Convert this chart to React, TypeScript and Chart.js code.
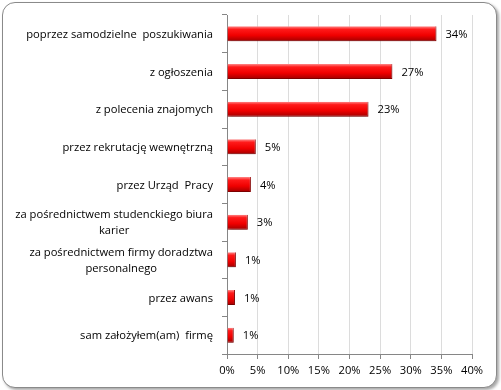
import React, { useEffect, useRef } from "react";
import { Chart, registerables } from "chart.js";

Chart.register(...registerables);

const categories: string[][] = [
  ["poprzez samodzielne  poszukiwania"],
  ["z ogłoszenia"],
  ["z polecenia znajomych"],
  ["przez rekrutację wewnętrzną"],
  ["przez Urząd  Pracy"],
  ["za pośrednictwem studenckiego biura", "karier"],
  ["za pośrednictwem firmy doradztwa", "personalnego"],
  ["przez awans"],
  ["sam założyłem(am)  firmę"],
];
const values: number[] = [34.2, 27, 23.1, 4.7, 3.9, 3.4, 1.45, 1.3, 1.1];
const valueLabels: string[] = ["34%", "27%", "23%", "5%", "4%", "3%", "1%", "1%", "1%"];
const xMax = 40;
const xStep = 5;

const FONT = "'Open Sans', Lato, sans-serif";
const BAR_PCT = 0.4;

export default function App() {
  const ref = useRef<HTMLCanvasElement>(null);
  useEffect(() => {
    if (!ref.current) return;
    const shadowPlugin = {
      id: "barShadow",
      beforeDatasetsDraw(chart: any) {
        const ctx = chart.ctx;
        ctx.save();
        ctx.shadowColor = "rgba(0,0,0,0.28)";
        ctx.shadowBlur = 3;
        ctx.shadowOffsetX = 1;
        ctx.shadowOffsetY = 2;
      },
      afterDatasetsDraw(chart: any) {
        chart.ctx.restore();
      },
    };
    const labelsPlugin = {
      id: "customLabels",
      afterDraw(chart: any) {
        const ctx = chart.ctx;
        const y = chart.scales.y;
        const x = chart.scales.x;
        ctx.save();
        ctx.font = `11.2px ${FONT}`;
        ctx.fillStyle = "#000";
        ctx.textBaseline = "middle";
        const right = chart.chartArea.left - 14;
        const lh = 16;
        categories.forEach((lines, i) => {
          const cy = y.getPixelForValue(i) + 1;
          const widths = lines.map((l) => ctx.measureText(l).width);
          const bw = Math.max(...widths);
          const cx = right - bw / 2;
          ctx.textAlign = "center";
          lines.forEach((l, k) => {
            const ly = cy + (k - (lines.length - 1) / 2) * lh;
            ctx.fillText(l, cx, ly);
          });
        });
        ctx.textAlign = "left";
        values.forEach((v, i) => {
          const px = x.getPixelForValue(v);
          const py = y.getPixelForValue(i) + 1;
          ctx.fillText(valueLabels[i], px + 9, py);
        });
        ctx.restore();
      },
    };

    const chart = new Chart(ref.current, {
      type: "bar",
      data: {
        labels: categories.map((c) => c.join(" ")),
        datasets: [
          {
            data: values,
            barPercentage: BAR_PCT,
            categoryPercentage: 1,
            borderWidth: { right: 1, bottom: 1, top: 0, left: 0 },
            borderColor: "#9a0000",
            borderSkipped: false,
            backgroundColor: (c: any) => {
              const ch = c.chart;
              const ys = ch.scales && ch.scales.y;
              if (!ys || c.dataIndex === undefined) return "#ee0000";
              const cyv = ys.getPixelForValue(c.dataIndex);
              const band = (ys.bottom - ys.top) / categories.length;
              const h = band * BAR_PCT;
              if (!isFinite(cyv) || !isFinite(h) || h <= 0) return "#ee0000";
              const g = ch.ctx.createLinearGradient(0, cyv - h / 2, 0, cyv + h / 2);
              g.addColorStop(0, "#ff8a8a");
              g.addColorStop(0.2, "#ff1a1a");
              g.addColorStop(0.6, "#f00000");
              g.addColorStop(1, "#a00000");
              return g;
            },
          },
        ],
      },
      options: {
        indexAxis: "y",
        animation: false,
        responsive: false,
        maintainAspectRatio: false,
        layout: { padding: { top: 15, right: 29, left: 0, bottom: 0 } },
        plugins: { legend: { display: false }, tooltip: { enabled: false } },
        scales: {
          x: {
            min: 0,
            max: xMax,
            ticks: {
              stepSize: xStep,
              callback: (v: any) => `${v}%`,
              color: "#000",
              font: { family: FONT, size: 11.2 },
              padding: 5,
            },
            grid: {
              color: "#dcdcdc",
              tickColor: "#868686",
              tickLength: 5,
              lineWidth: 1,
            },
            border: { display: true, color: "#868686", width: 1 },
            afterFit: (s: any) => {
              s.height = 36;
            },
          },
          y: {
            type: "category",
            offset: true,
            ticks: { display: false },
            grid: {
              offset: true,
              drawOnChartArea: false,
              drawTicks: true,
              tickLength: 5,
              color: "#868686",
            },
            border: { display: true, color: "#868686", width: 1 },
            afterFit: (s: any) => {
              s.width = 227;
            },
          },
        },
      },
      plugins: [shadowPlugin, labelsPlugin],
    } as any);
    return () => chart.destroy();
  }, []);

  return (
    <div style={{ position: "fixed", left: 0, top: 0, width: 501, height: 390, background: "#fff" }}>
      <div
        style={{
          position: "absolute",
          left: 2,
          top: 2,
          width: 493,
          height: 384,
          border: "1px solid #8a8a8a",
          borderRadius: 13,
          boxShadow: "2px 2px 3px rgba(0,0,0,0.35)",
          background: "#fff",
        }}
      />
      <canvas ref={ref} width={501} height={390} style={{ position: "absolute", left: 0, top: 0, width: 501, height: 390 }} />
    </div>
  );
}
